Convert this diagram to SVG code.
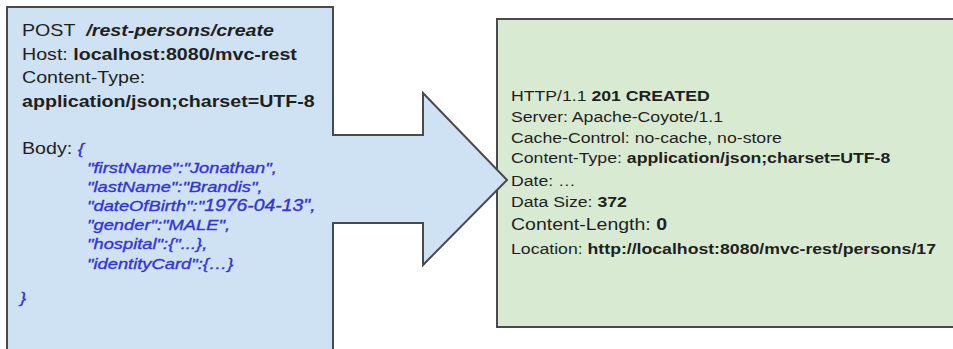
<svg xmlns="http://www.w3.org/2000/svg" width="953" height="349" viewBox="0 0 953 349">
<style>
.t{font-family:"Liberation Sans",Arial,Helvetica,sans-serif;fill:#1f1f1f}
.b{font-weight:bold}
.l{font-size:16.5px}
.r{font-size:15.5px}
.j{font-family:"Liberation Sans",Arial,Helvetica,sans-serif;font-size:15.4px;font-style:italic;fill:#3434d4;stroke:#3434d4;stroke-width:0.35px}
.shape{stroke:#4a4a4a;stroke-width:2;stroke-linejoin:miter}
</style>
<rect width="953" height="349" fill="#ffffff"/>
<g id="response">
<rect class="shape" x="497" y="19" width="470" height="308" fill="#d9ead3"/>
<text class="t r" transform="translate(511,101) scale(1.14,1)">HTTP/1.1 <tspan class="b">201 CREATED</tspan></text>
<text class="t r" transform="translate(511,122) scale(1.14,1)">Server: Apache-Coyote/1.1</text>
<text class="t r" transform="translate(511,143) scale(1.14,1)">Cache-Control: no-cache, no-store</text>
<text class="t r" transform="translate(511,163) scale(1.14,1)">Content-Type: <tspan class="b">application/json;charset=UTF-8</tspan></text>
<text class="t r" transform="translate(511,186) scale(1.14,1)">Date: …</text>
<text class="t r" transform="translate(511,207) scale(1.14,1)">Data Size: <tspan class="b">372</tspan></text>
<text class="t" font-size="17.1" transform="translate(511,230) scale(1.14,1)">Content-Length: <tspan class="b">0</tspan></text>
<text class="t r" transform="translate(511,254) scale(1.14,1)">Location: <tspan class="b">http://localhost:8080/mvc-rest/persons/17</tspan></text>
</g>
<g id="request">
<polygon class="shape" fill="#cfe2f3" points="7,360 7,7 333,7 333,135 423,135 423,93 507,180 423,265 423,223 333,223 333,360"/>
<text class="t l" transform="translate(22,36) scale(1.19,1)">POST<tspan class="b" font-style="italic" dx="4.6"> /rest-persons/create</tspan></text>
<text class="t l" transform="translate(22,59.5) scale(1.19,1)">Host: <tspan class="b">localhost:8080/mvc-rest</tspan></text>
<text class="t l" transform="translate(22,83) scale(1.19,1)">Content-Type:</text>
<text class="t l b" transform="translate(22,106.5) scale(1.19,1)">application/json;charset=UTF-8</text>
<text class="t l" transform="translate(22,153.5) scale(1.19,1)">Body: <tspan class="j" font-size="16.5">{</tspan></text>
<text class="j" transform="translate(87,172.5) scale(1.19,1)">"firstName":"Jonathan",</text>
<text class="j" transform="translate(87,191.5) scale(1.19,1)">"lastName":"Brandis",</text>
<text class="j" transform="translate(87,211) scale(1.19,1)">"dateOfBirth":"<tspan font-size="16.3">1976-04-13",</tspan></text>
<text class="j" transform="translate(87,230) scale(1.19,1)">"gender":"MALE",</text>
<text class="j" transform="translate(87,249) scale(1.19,1)">"hospital":{"...},</text>
<text class="j" transform="translate(87,268.5) scale(1.19,1)">"identityCard":{…}</text>
<text class="j" font-size="16.5" transform="translate(20,303) scale(1.19,1)">}</text>
</g>
<g id="connectors"/>
</svg>
